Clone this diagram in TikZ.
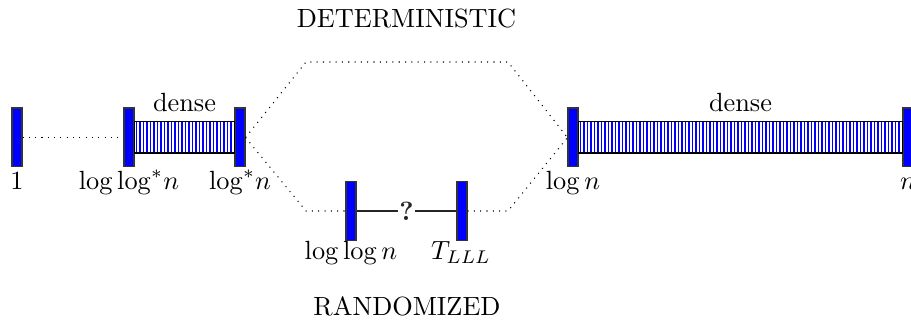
\documentclass[tikz,border=0pt]{standalone}

\tikzset{
  bar/.style={draw=black!80, line width=0.4pt, fill=blue, rectangle,
    inner sep=0pt, minimum width=3.8pt, minimum height=22.4pt},
  densebox/.style={draw=black, line width=0.4pt},
  hatch/.style={blue, line width=0.7pt},
  lab/.style={anchor=base, inner sep=0pt},
  gap/.style={dotted, black}
}

\begin{document}
\begin{tikzpicture}[x=0.38pt, y=-0.38pt]

    \useasboundingbox (0,0) rectangle (911,324);

    % ==================================================
    % 上段の区間
    % ==================================================

    % dense な区間（縦線で塗る）
    \foreach \x in {136.5,140,...,233}
      \draw[hatch] (\x,121) -- (\x,152);
    \foreach \x in {580.5,584,...,901}
      \draw[hatch] (\x,121) -- (\x,152);

    % 区間の端
    \node[bar] (one)    at (17,137.5)  {};
    \node[bar] (llstar) at (129,137.5) {};
    \node[bar] (lstar)  at (240,137.5) {};
    \node[bar] (logn)   at (573,137.5) {};
    \node[bar] (en)     at (908,137.5) {};

    \draw[densebox] ([yshift=-5.9pt]llstar.east) rectangle ([yshift=5.9pt]lstar.west);
    \draw[densebox] ([yshift=-5.9pt]logn.east) rectangle ([yshift=5.9pt]en.west);
    \node[above] (dA) at (184.5,121) {dense};
    \node[above] (dB) at (740.5,121) {dense};

    % 目盛り
    \node[lab] (tOne)    at (17,190)  {$1$};
    \node[lab] (tLlstar) at (129,190) {$\log\log^*\!n$};
    \node[lab] (tLstar)  at (240,190) {$\log^*\!n$};
    \node[lab] (tLogn)   at (573,190) {$\log n$};
    \node[lab] (tEn)     at (908,190) {$n$};

    % ==================================================
    % 下段の区間
    % ==================================================

    \node[bar] (llog) at (351,211) {};
    \node[bar] (tlll) at (462,211) {};

    \draw[black!85] (llog) -- (tlll)
      node[midway, fill=white, inner sep=0.4pt] (q) {\textbf{?}};

    \node[lab] (tLlog) at (351,260) {$\log\log n$};
    \node[lab] (tTlll) at (461,260) {$T_{LLL}$};

    % ==================================================
    % 点線
    % ==================================================

    \coordinate (detL) at (306,62);
    \coordinate (detR) at (508,62);
    \coordinate (rndL) at (306,211);
    \coordinate (rndR) at (508,211);

    \draw[gap] (one) -- (llstar);
    \draw[gap] (lstar.east) -- (detL) -- (detR) -- (logn.west);
    \draw[gap] (lstar.east) -- (rndL) -- (llog);
    \draw[gap] (tlll) -- (rndR) -- (logn.west);

    % 見出し
    \node[lab] (det) at (406.5,27.5) {DETERMINISTIC};
    \node[lab] (rnd) at (407,316)   {RANDOMIZED};

  \end{tikzpicture}
\end{document}
